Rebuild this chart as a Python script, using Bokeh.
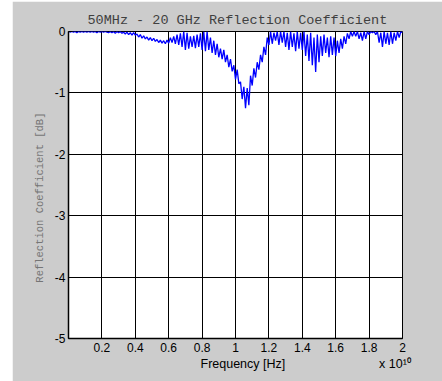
from bokeh.plotting import figure
from bokeh.models import FixedTicker, PrintfTickFormatter, Title
from bokeh.embed import file_html
from bokeh.resources import INLINE

# axis ticks (frequency in units of 1e10 Hz)
x_ticks = [0.2, 0.4, 0.6, 0.8, 1.0, 1.2, 1.4, 1.6, 1.8, 2.0]
y_ticks = [-5, -4, -3, -2, -1, 0]

# sweep: 50 MHz start, then 100 MHz steps (values in units of 1e10 Hz)
freq_start = 0.005
freq_step = 0.01

# reflection coefficient [dB], 0.1 (x1e10 Hz) per block
s00 = [-0.01, 0, -0.01, 0, -0.02, 0, -0.01, 0, -0.01, 0]
s01 = [-0.01, 0, -0.01, 0, -0.01, 0, -0.02, 0, -0.01, 0]
s02 = [-0.01, 0, -0.01, -0.02, 0, -0.02, 0, -0.03, 0, -0.02]
s03 = [0, -0.03, -0.01, -0.04, -0.01, -0.05, -0.02, -0.06, -0.02, -0.06]
s04 = [-0.04, -0.09, -0.05, -0.11, -0.07, -0.12, -0.09, -0.14, -0.10, -0.15]
s05 = [-0.11, -0.16, -0.13, -0.18, -0.14, -0.19, -0.15, -0.20, -0.14, -0.19]
s06 = [-0.10, -0.18, -0.08, -0.20, -0.05, -0.22, -0.03, -0.25, 0.0, -0.30]
s07 = [-0.02, -0.28, -0.08, -0.25, -0.07, -0.27, -0.05, -0.25, -0.03, -0.30]
s08 = [0.0, -0.32, 0.0, -0.30, -0.10, -0.35, -0.15, -0.38, -0.20, -0.42]
s09 = [-0.28, -0.45, -0.30, -0.50, -0.38, -0.58, -0.45, -0.65, -0.55, -0.78]
s10 = [-0.62, -0.85, -0.82, -1.10, -0.90, -1.25, -0.92, -1.20, -0.72, -0.88]
s11 = [-0.60, -0.75, -0.50, -0.62, -0.38, -0.50, -0.25, -0.38, -0.10, -0.22]
s12 = [0.0, -0.20, -0.02, -0.15, 0.0, -0.22, 0.0, -0.18, 0.0, -0.25]
s13 = [-0.02, -0.30, 0.0, -0.25, -0.03, -0.32, 0.0, -0.28, -0.02, -0.30]
s14 = [0.0, -0.40, -0.05, -0.48, -0.02, -0.55, -0.10, -0.66, -0.05, -0.50]
s15 = [-0.08, -0.40, -0.05, -0.35, -0.10, -0.42, -0.08, -0.38, -0.10, -0.40]
s16 = [-0.15, -0.35, -0.12, -0.28, -0.08, -0.20, -0.03, -0.12, 0.0, -0.08]
s17 = [0.0, -0.08, 0.0, -0.12, -0.02, -0.15, 0.0, -0.12, 0.0, -0.05]
s18 = [0.0, -0.02, 0.0, -0.05, 0.0, -0.18, -0.02, -0.25, 0.0, -0.20]
s19 = [-0.02, -0.22, 0.0, -0.20, -0.02, -0.15, 0.0, -0.10, 0.0, -0.02]

refl_db = [0.0] + s00 + s01 + s02 + s03 + s04 + s05 + s06 + s07 + s08 + s09 \
    + s10 + s11 + s12 + s13 + s14 + s15 + s16 + s17 + s18 + s19
freq = [freq_start] + [freq_step * (i + 1) for i in range(len(refl_db) - 1)]

title_text = "50MHz - 20 GHz Reflection Coefficient"
y_label = "Reflection Coefficient [dB]"
x_label = "Frequency [Hz]"
x_scale_note = "x 10\u00b9\u2070"

NB = "\u00a0"

p = figure(width=430, height=380, output_backend="svg", toolbar_location=None,
           x_range=(0, 2), y_range=(-5, 0), margin=(1, 0, 0, 12),
           min_border=0, min_border_left=56, min_border_right=40,
           min_border_top=30, min_border_bottom=43)
p.border_fill_color = "#cccccc"
p.background_fill_color = "white"
p.outline_line_color = "black"
p.outline_line_width = 1

p.line(freq, refl_db, line_color="#0000ff", line_width=1.3)

for ax in (p.xaxis, p.yaxis):
    ax.major_tick_out = 0
    ax.major_tick_in = 4
    ax.minor_tick_out = 0
    ax.minor_tick_in = 0
    ax.axis_line_color = "black"
    ax.axis_line_width = 1.5
    ax.major_label_text_font = "Liberation Sans"
    ax.major_label_text_font_size = "12px"
    ax.major_label_text_color = "black"

p.xaxis.ticker = FixedTicker(ticks=x_ticks)
p.yaxis.ticker = FixedTicker(ticks=y_ticks)
p.xaxis.formatter = PrintfTickFormatter(format="%g")
p.yaxis.formatter = PrintfTickFormatter(format="%g")
p.xaxis.major_label_standoff = 4
p.yaxis.major_label_standoff = 3

p.yaxis.axis_label = y_label + NB * 4
p.yaxis.axis_label_text_font = "Liberation Mono"
p.yaxis.axis_label_text_font_size = "10.5px"
p.yaxis.axis_label_text_font_style = "normal"
p.yaxis.axis_label_text_color = "#757575"
p.yaxis.axis_label_standoff = 6

p.xgrid.grid_line_color = "black"
p.ygrid.grid_line_color = "black"
p.xgrid.grid_line_width = 1
p.ygrid.grid_line_width = 1

p.title.text = title_text
p.title.align = "left"
p.title.offset = 19
p.title.standoff = 8
p.title.text_font = "Liberation Mono"
p.title.text_font_size = "13.5px"
p.title.text_font_style = "normal"
p.title.text_color = "#404040"

p.add_layout(Title(text=x_label + NB * 27 + x_scale_note, align="left",
                   offset=132, standoff=0, text_font="Liberation Sans",
                   text_font_size="12.5px", text_font_style="normal",
                   text_color="black"), "below")

open("out.html", "w").write(file_html(p, INLINE))
